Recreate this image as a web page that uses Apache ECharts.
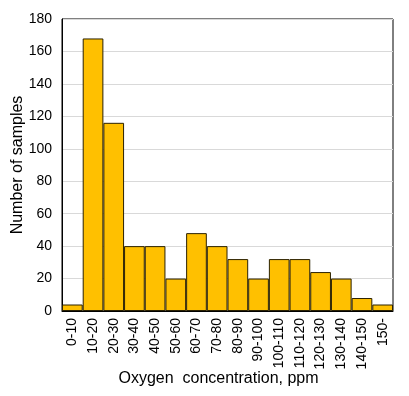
<!DOCTYPE html>
<html>
<head>
<meta charset="utf-8">
<script src="https://cdn.jsdelivr.net/npm/echarts@6/dist/echarts.min.js"></script>
<style>
html, body { margin: 0; padding: 0; background: #fff; }
#main { width: 409px; height: 396px; }
</style>
</head>
<body>
<div id="main"></div>
<script>
var categories = ['0-10', '10-20', '20-30', '30-40', '40-50', '50-60', '60-70', '70-80',
    '80-90', '90-100', '100-110', '110-120', '120-130', '130-140', '140-150', '150-'];
var samples = [4, 168, 116, 40, 40, 20, 48, 40, 32, 20, 32, 32, 24, 20, 8, 4];
var yTicks = { min: 0, max: 180, interval: 20 };

var myChart = echarts.init(document.getElementById('main'));

var font = 'Liberation Sans, Arial, sans-serif';

var option = {
    animation: false,
    grid: {
        left: 62,
        right: 16,
        top: 19,
        bottom: 85,
        containLabel: false,
        outerBoundsMode: 'none',
        show: true,
        borderColor: '#000',
        borderWidth: 1
    },
    xAxis: {
        type: 'category',
        data: categories,
        name: 'Oxygen  concentration, ppm',
        nameLocation: 'middle',
        nameGap: 60,
        nameMoveOverlap: false,
        nameTextStyle: { fontFamily: font, fontSize: 16, color: '#000', padding: [0, 18, 0, 0] },
        axisLine: { lineStyle: { color: '#000' } },
        axisTick: { show: false },
        axisLabel: {
            rotate: 90,
            interval: 0,
            margin: 7,
            fontFamily: font,
            fontSize: 14,
            color: '#000'
        }
    },
    yAxis: {
        type: 'value',
        min: yTicks.min,
        max: yTicks.max,
        interval: yTicks.interval,
        name: 'Number of samples',
        nameLocation: 'middle',
        nameGap: 36,
        nameMoveOverlap: false,
        nameTextStyle: { fontFamily: font, fontSize: 16, color: '#000' },
        axisLine: { show: true, lineStyle: { color: '#000' } },
        axisTick: { show: false },
        axisLabel: { fontFamily: font, fontSize: 14, color: '#000', margin: 10 },
        splitLine: { lineStyle: { color: '#d9d9d9' } }
    },
    series: [{
        type: 'bar',
        data: samples,
        barWidth: '100%',
        barCategoryGap: 0,
        itemStyle: {
            color: '#ffc000',
            borderColor: '#2b2100',
            borderWidth: 1
        }
    }]
};

myChart.setOption(option);
</script>
</body>
</html>
